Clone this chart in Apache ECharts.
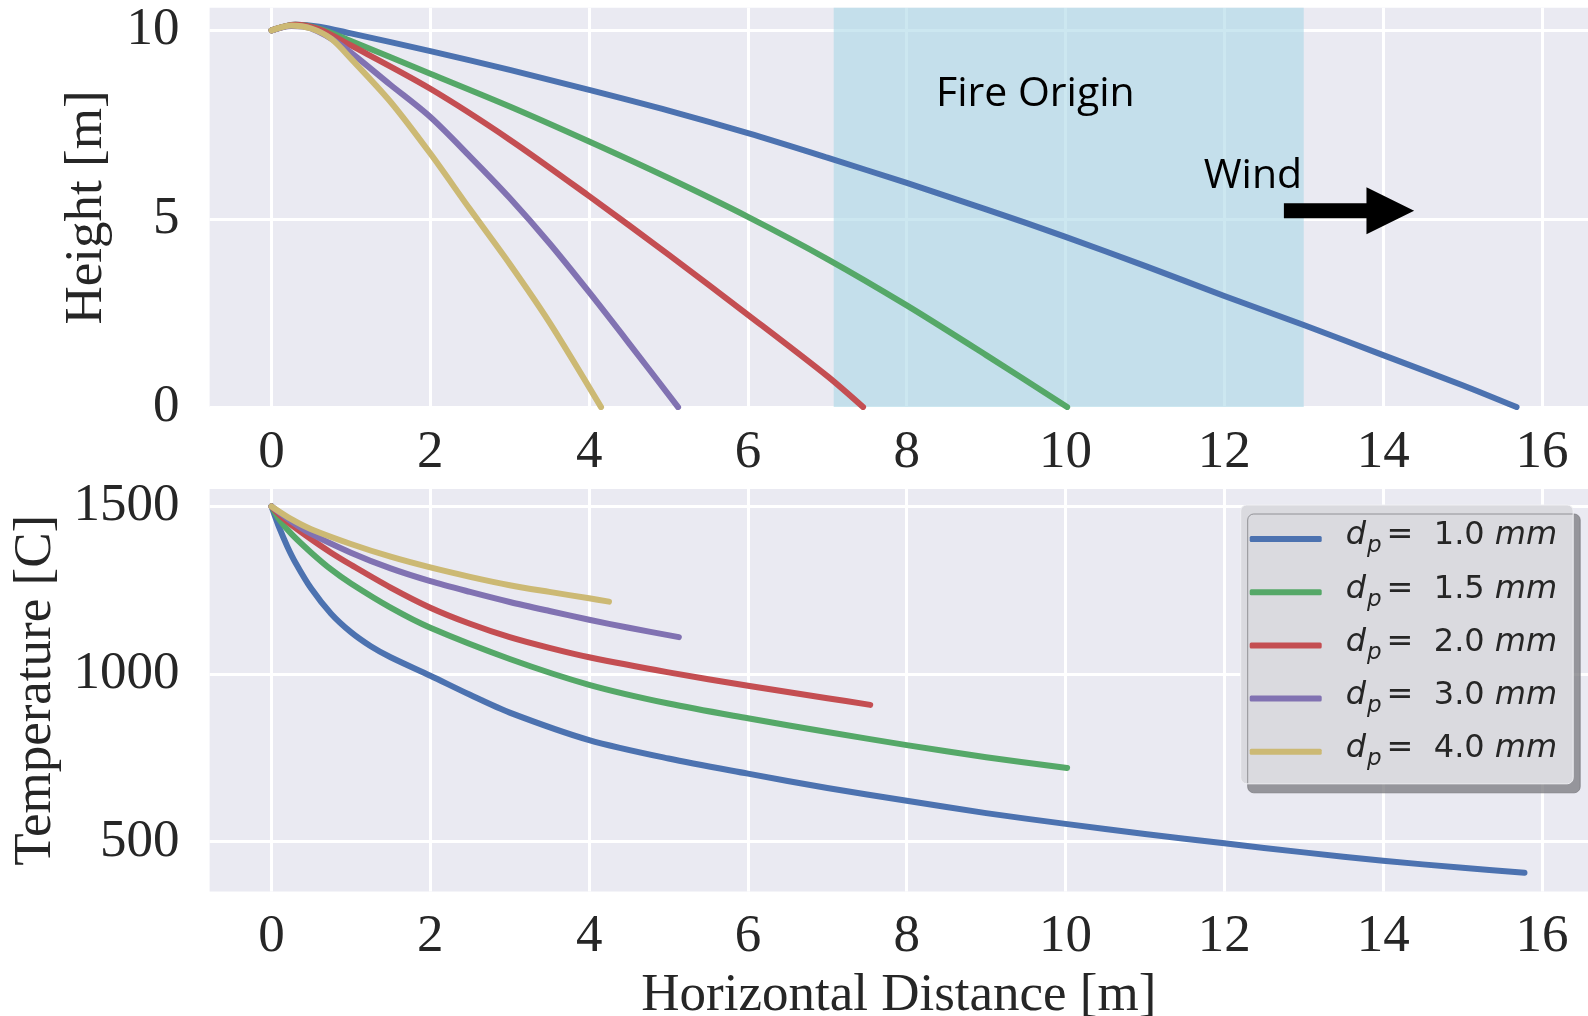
<!DOCTYPE html>
<html>
<head>
<meta charset="utf-8">
<script src="https://cdn.jsdelivr.net/npm/echarts@6/dist/echarts.min.js"></script>
<style>
  html, body { margin: 0; padding: 0; background: #fff; }
  #main { width: 1588px; height: 1016px; }
</style>
</head>
<body>
<div id="main"></div>
<script>
// particle diameters (mm) and seaborn "deep" colours
var sizes = ['1.0', '1.5', '2.0', '3.0', '4.0'];
var colors = ['#4C72B0', '#55A868', '#C44E52', '#8172B2', '#CCB974'];

var xTicks = [0, 2, 4, 6, 8, 10, 12, 14, 16];
var heightTicks = [0, 5, 10];
var tempTicks = [500, 1000, 1500];
var fireOrigin = [7.08, 13];

// height [m] vs horizontal distance [m]
var height10 = [[0, 10], [0.3, 10.15], [0.6, 10.1], [1, 9.92], [2, 9.45], [3, 8.95], [4, 8.42], [5, 7.87], [6, 7.27],
    [7, 6.62], [8, 5.95], [9, 5.25], [10, 4.52], [11, 3.75], [12, 2.95], [13, 2.18], [14, 1.38], [15, 0.58], [15.68, 0]];
var height15 = [[0, 10], [0.3, 10.15], [0.6, 10.05], [1, 9.72], [2, 8.85], [3, 7.98], [4, 7.05], [5, 6.08], [6, 5.05],
    [7, 3.93], [8, 2.7], [9, 1.38], [10.02, 0]];
var height20 = [[0, 10], [0.3, 10.15], [0.6, 10.03], [1, 9.6], [2, 8.45], [3, 7.1], [4, 5.6], [5, 4.05], [6, 2.45],
    [7, 0.82], [7.45, 0]];
var height30 = [[0, 10], [0.25, 10.12], [0.5, 10.05], [0.88, 9.6], [1.5, 8.55], [2, 7.7], [2.5, 6.65], [3, 5.55],
    [3.5, 4.35], [4, 3.05], [4.5, 1.7], [5.12, 0]];
var height40 = [[0, 10], [0.25, 10.13], [0.5, 10.05], [0.75, 9.78], [1, 9.25], [1.5, 8.1], [2, 6.73], [2.5, 5.25],
    [3, 3.8], [3.5, 2.25], [4.15, 0]];

// temperature [C] vs horizontal distance [m]
var temp10 = [[0, 1500], [0.1, 1435], [0.2, 1380], [0.3, 1333], [0.5, 1255], [0.75, 1180], [1, 1125], [1.25, 1083],
    [1.5, 1050], [2, 995], [2.5, 938], [3, 885], [4, 803], [5, 748], [6, 703], [7, 660], [8, 622], [9, 585], [10, 553],
    [11, 523], [12, 495], [13, 468], [14, 443], [15, 422], [15.78, 407]];
var temp15 = [[0, 1500], [0.1, 1460], [0.25, 1418], [0.5, 1362], [0.75, 1312], [1, 1270], [1.5, 1198], [2, 1138],
    [3, 1045], [4, 968], [5, 912], [6, 868], [7, 827], [8, 788], [9, 752], [10.02, 720]];
var temp20 = [[0, 1500], [0.1, 1475], [0.25, 1445], [0.5, 1402], [0.75, 1362], [1, 1326], [1.5, 1258], [2, 1198],
    [2.5, 1150], [3, 1110], [3.5, 1078], [4, 1050], [5, 1005], [6, 965], [7, 928], [7.54, 908]];
var temp30 = [[0, 1500], [0.25, 1455], [0.5, 1418], [1, 1362], [1.5, 1315], [2, 1277], [2.5, 1245], [3, 1215],
    [3.5, 1188], [4, 1162], [4.5, 1138], [5.13, 1110]];
var temp40 = [[0, 1500], [0.25, 1462], [0.5, 1432], [1, 1388], [1.5, 1350], [2, 1318], [2.5, 1290], [3, 1265],
    [3.5, 1245], [4, 1226], [4.25, 1216]];

var heightData = [height10, height15, height20, height30, height40];
var tempData = [temp10, temp15, temp20, temp30, temp40];

var serif = 'Liberation Serif';
var textColor = '#262626';

var chart = echarts.init(document.getElementById('main'));

function plain(v) {
    return String(v);
}

function xAxisCfg(idx, margin) {
    return {
        gridIndex: idx,
        type: 'value',
        min: -0.78,
        max: 16.58,
        axisLine: { show: false },
        axisTick: { show: false, customValues: xTicks },
        axisLabel: { customValues: xTicks, formatter: plain, margin: margin, fontFamily: serif, fontSize: 53, color: textColor },
        splitLine: { lineStyle: { color: '#fff', width: 3 } }
    };
}

function yAxisCfg(idx, min, max, ticks, name, gap) {
    return {
        gridIndex: idx,
        type: 'value',
        min: min,
        max: max,
        name: name,
        nameLocation: 'middle',
        nameGap: gap,
        nameTextStyle: { fontFamily: serif, fontSize: 53, color: textColor },
        axisLine: { show: false },
        axisTick: { show: false, customValues: ticks },
        axisLabel: { customValues: ticks, formatter: plain, margin: 30, fontFamily: serif, fontSize: 53, color: textColor },
        splitLine: { lineStyle: { color: '#fff', width: 3 } }
    };
}

function lineSeries(name, axisIdx, data, color) {
    return {
        name: name,
        type: 'line',
        xAxisIndex: axisIdx,
        yAxisIndex: axisIdx,
        data: data,
        showSymbol: false,
        smooth: 0.3,
        color: color,
        lineStyle: { width: 6, cap: 'round', join: 'round' }
    };
}

var series = [];
for (var i = 0; i < sizes.length; i++) {
    var upper = lineSeries(sizes[i], 0, heightData[i], colors[i]);
    if (i === 0) {
        // shaded fire origin span
        upper.markArea = {
            silent: true,
            itemStyle: { color: 'rgba(173,216,230,0.62)' },
            data: [[{ xAxis: fireOrigin[0] }, { xAxis: fireOrigin[1] }]]
        };
    }
    series.push(upper);
    series.push(lineSeries(sizes[i], 1, tempData[i], colors[i]));
}

var option = {
    animation: false,
    backgroundColor: '#fff',
    grid: [
        { left: 209.6, top: 7.8, width: 1378.4, height: 399.3, show: true, backgroundColor: '#EAEAF2', borderWidth: 0, outerBoundsMode: 'none' },
        { left: 209.6, top: 489, width: 1378.4, height: 402.6, show: true, backgroundColor: '#EAEAF2', borderWidth: 0, outerBoundsMode: 'none' }
    ],
    xAxis: [
        xAxisCfg(0, 19),
        Object.assign(xAxisCfg(1, 19), {
            name: 'Horizontal Distance [m]',
            nameLocation: 'middle',
            nameGap: 78,
            nameTextStyle: { fontFamily: serif, fontSize: 53, color: textColor }
        })
    ],
    yAxis: [
        yAxisCfg(0, 0, 10.6, heightTicks, 'Height [m]', 96),
        yAxisCfg(1, 351, 1552, tempTicks, 'Temperature [C]', 140)
    ],
    legend: {
        data: sizes,
        orient: 'vertical',
        left: 1240.7,
        top: 505,
        padding: [15, 16, 13, 9],
        itemGap: 15.2,
        itemWidth: 72,
        itemHeight: 6,
        icon: 'roundRect',
        selectedMode: false,
        backgroundColor: '#DADADF',
        borderColor: '#F0F0F4',
        borderWidth: 1,
        borderRadius: 6,
        shadowColor: 'rgba(120,120,126,0.75)',
        shadowBlur: 0,
        shadowOffsetX: 7,
        shadowOffsetY: 9,
        formatter: function (name) {
            return '{d|d}{s|p}{n|=  ' + name + ' }{i|mm}';
        },
        textStyle: {
            fontFamily: 'DejaVu Sans',
            fontSize: 32,
            color: textColor,
            rich: {
                d: { fontFamily: 'DejaVu Sans', fontStyle: 'italic', fontSize: 32, color: textColor, verticalAlign: 'bottom', padding: [0, 0, 6, 19] },
                s: { fontFamily: 'DejaVu Sans', fontStyle: 'italic', fontSize: 23, color: textColor, verticalAlign: 'bottom', padding: [0, 5, 0, 1] },
                n: { fontFamily: 'DejaVu Sans', fontSize: 32, color: textColor, verticalAlign: 'bottom', padding: [0, 0, 6, 0] },
                i: { fontFamily: 'DejaVu Sans', fontStyle: 'italic', fontSize: 32, color: textColor, verticalAlign: 'bottom', padding: [0, 0, 6, 0] }
            }
        }
    },
    series: series
};

chart.setOption(option);

// annotations placed in data coordinates of the upper plot
var firePos = [9.62, 8.29];
var windPos = [12.36, 6.13];
var arrowFrom = [12.75, 5.21];
var arrowNeck = [13.79, 5.21];
var arrowTip = [14.39, 5.21];

function px(pt) {
    return chart.convertToPixel({ gridIndex: 0 }, pt);
}

var f = px(firePos), w = px(windPos);
var a0 = px(arrowFrom), a1 = px(arrowNeck), a2 = px(arrowTip);
var shaft = 7.5, head = 23.5;

chart.setOption({
    graphic: [
        {
            type: 'text', x: f[0], y: f[1], z: 10,
            style: { text: 'Fire Origin', fontFamily: 'Open Sans', fontSize: 41, fill: '#000', align: 'center', verticalAlign: 'middle' }
        },
        {
            type: 'text', x: w[0], y: w[1], z: 10,
            style: { text: 'Wind', fontFamily: 'Open Sans', fontSize: 41, fill: '#000', align: 'center', verticalAlign: 'middle' }
        },
        {
            type: 'polygon', z: 10,
            shape: {
                points: [
                    [a0[0], a0[1] - shaft], [a1[0], a1[1] - shaft], [a1[0], a1[1] - head], [a2[0], a2[1]],
                    [a1[0], a1[1] + head], [a1[0], a1[1] + shaft], [a0[0], a0[1] + shaft]
                ]
            },
            style: { fill: '#000' }
        }
    ]
});
</script>
</body>
</html>
